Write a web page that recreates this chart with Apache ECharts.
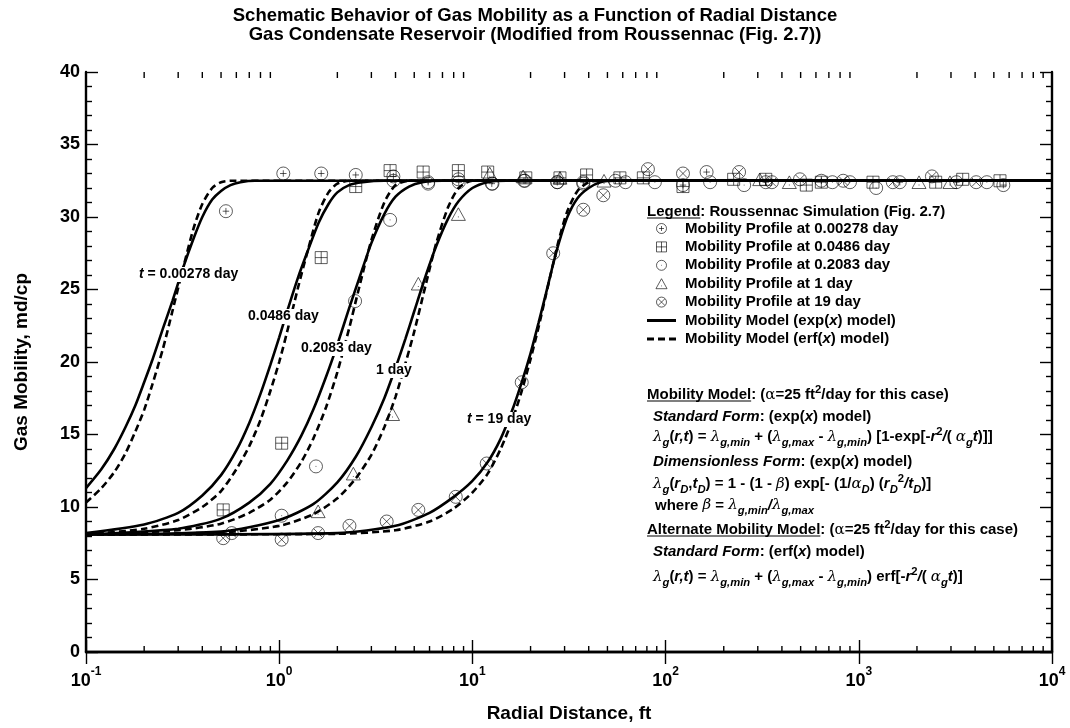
<!DOCTYPE html>
<html>
<head>
<meta charset="utf-8">
<script src="https://cdn.jsdelivr.net/npm/echarts@6/dist/echarts.min.js"></script>
<style>
  html, body { margin: 0; background: #fff; }
  #main { width: 1070px; height: 728px; }
</style>
</head>
<body>
<div id="main"></div>
<script>
// ---------- values ----------
// x minor ticks (2..9 in every decade)
const xMinorTicks = [0.2, 0.3, 0.4, 0.5, 0.6, 0.7, 0.8, 0.9,
  2, 3, 4, 5, 6, 7, 8, 9,
  20, 30, 40, 50, 60, 70, 80, 90,
  200, 300, 400, 500, 600, 700, 800, 900,
  2000, 3000, 4000, 5000, 6000, 7000, 8000, 9000];

// model curves, exp(x) model (solid)
const expR1 = [0.1, 0.12, 0.14, 0.16, 0.18, 0.2, 0.22, 0.25, 0.28, 0.32, 0.36, 0.4, 0.45, 0.5, 0.56, 0.63, 0.75, 1, 10000];
const expV1 = [11.3, 12.6, 14.0, 15.5, 17.0, 18.6, 20.1, 22.3, 24.2, 26.6, 28.5, 30.0, 31.2, 31.8, 32.2, 32.4, 32.5, 32.5, 32.5];
const expR2 = [0.1, 0.2, 0.3, 0.4, 0.5, 0.6, 0.7, 0.8, 0.9, 1.0, 1.1, 1.25, 1.4, 1.6, 1.8, 2.0, 2.3, 2.7, 3.5, 10000];
const expV2 = [8.2, 8.8, 9.6, 10.8, 12.2, 13.9, 15.8, 17.8, 19.8, 21.7, 23.5, 25.8, 27.6, 29.6, 30.9, 31.7, 32.2, 32.4, 32.5, 32.5];
const expR3 = [0.1, 0.3, 0.5, 0.7, 0.9, 1.1, 1.3, 1.5, 1.75, 2.0, 2.3, 2.6, 3.0, 3.5, 4.0, 4.7, 5.5, 7, 10000];
const expV3 = [8.1, 8.5, 9.2, 10.3, 11.6, 13.2, 14.9, 16.7, 19.0, 21.2, 23.7, 25.8, 28.2, 30.2, 31.4, 32.1, 32.4, 32.5, 32.5];
const expR4 = [0.1, 0.5, 1, 1.5, 2, 2.5, 3, 3.5, 4, 4.5, 5, 5.75, 6.5, 7.5, 8.5, 10, 12, 15, 10000];
const expV4 = [8.1, 8.3, 9.1, 10.2, 11.7, 13.5, 15.5, 17.5, 19.6, 21.6, 23.5, 26.0, 28.0, 29.9, 31.1, 32.0, 32.4, 32.5, 32.5];
const expR5 = [0.1, 2, 4, 6, 8, 10, 12, 14, 16, 18, 20, 22, 24, 26, 28, 31, 35, 40, 46, 55, 10000];
const expV5 = [8.1, 8.2, 8.7, 9.6, 10.7, 11.8, 13.1, 14.7, 16.6, 18.6, 20.6, 22.7, 24.7, 26.6, 28.2, 30.0, 31.3, 32.0, 32.4, 32.5, 32.5];

// model curves, erf(x) model (dashed)
const erfR1 = [0.1, 0.12, 0.14, 0.16, 0.18, 0.2, 0.22, 0.25, 0.28, 0.32, 0.36, 0.4, 0.45, 0.5, 0.56, 1, 10000];
const erfV1 = [10.3, 11.3, 12.4, 13.7, 15.2, 16.7, 18.4, 20.9, 23.5, 26.6, 29.2, 30.9, 32.0, 32.4, 32.5, 32.5, 32.5];
const erfR2 = [0.1, 0.2, 0.3, 0.4, 0.5, 0.6, 0.7, 0.8, 0.9, 1.0, 1.1, 1.25, 1.4, 1.6, 1.8, 2.0, 2.3, 10000];
const erfV2 = [8.1, 8.5, 9.1, 10.0, 11.1, 12.6, 14.2, 16.0, 18.0, 20.0, 22.1, 25.1, 27.6, 30.3, 31.7, 32.3, 32.5, 32.5];
const erfR3 = [0.1, 0.3, 0.5, 0.7, 0.9, 1.1, 1.3, 1.5, 1.75, 2.0, 2.3, 2.6, 3.0, 3.5, 4.0, 4.7, 10000];
const erfV3 = [8.1, 8.4, 8.85, 9.6, 10.5, 11.7, 13.1, 14.7, 16.9, 19.3, 22.3, 25.2, 28.4, 31.0, 32.2, 32.5, 32.5];
const erfR4 = [0.1, 0.5, 1, 1.5, 2, 2.5, 3, 3.5, 4, 4.5, 5, 5.75, 6.5, 7.5, 8.5, 10, 10000];
const erfV4 = [8.1, 8.25, 8.7, 9.5, 10.6, 12.0, 13.6, 15.5, 17.6, 19.9, 22.1, 25.4, 28.2, 30.7, 32.0, 32.5, 32.5];
const erfR5 = [0.1, 2, 4, 6, 8, 10, 12, 14, 16, 18, 20, 22, 24, 26, 28, 31, 35, 40, 46, 10000];
const erfV5 = [8.1, 8.15, 8.4, 9.0, 9.9, 11.0, 12.3, 14.0, 15.9, 18.0, 20.2, 22.4, 24.6, 26.6, 28.4, 30.4, 31.8, 32.4, 32.5, 32.5];

// Roussennac simulation points
const simR1 = [0.53, 1.05, 1.65, 2.49, 3.9, 5.9, 8.5, 12.6, 18.5, 27.5, 37.5, 55, 123, 163, 330, 640, 1630, 3200, 5600];
const simV1 = [30.4, 33.0, 33.0, 32.9, 32.8, 32.4, 32.4, 32.3, 32.5, 32.4, 32.4, 32.5, 32.2, 33.1, 32.4, 32.5, 32.4, 32.4, 32.2];
const simR2 = [0.513, 1.03, 1.65, 2.49, 3.75, 5.56, 8.46, 12.0, 18.9, 28.4, 39, 58, 76.7, 123, 225, 330, 535, 640, 1184, 2500, 3450, 5380];
const simV2 = [9.8, 14.4, 27.2, 32.1, 33.2, 33.1, 33.2, 33.1, 32.7, 32.7, 32.9, 32.7, 32.7, 32.1, 32.6, 32.6, 32.2, 32.4, 32.4, 32.4, 32.6, 32.5];
const simR3 = [1.03, 1.55, 2.47, 3.75, 3.9, 5.9, 8.46, 12.7, 18.7, 27.5, 37.5, 62, 88, 170, 255, 730, 900, 1230, 4600];
const simV3 = [9.4, 12.8, 24.2, 29.8, 32.5, 32.3, 32.6, 32.3, 32.5, 32.4, 32.3, 32.4, 32.4, 32.4, 32.2, 32.4, 32.4, 32.0, 32.4];
const simR4 = [1.59, 2.42, 3.86, 5.25, 8.46, 12.3, 18.3, 28.4, 48, 307, 437, 2050, 2965];
const simV4 = [9.7, 12.3, 16.4, 25.4, 30.2, 33.0, 32.8, 32.7, 32.5, 32.6, 32.4, 32.4, 32.4];
const simR5 = [0.513, 0.568, 1.03, 1.59, 2.31, 3.6, 5.25, 8.2, 11.86, 18.0, 26.2, 37.5, 47.6, 81, 123, 240, 355, 496, 830, 1500, 2390, 4050];
const simV5 = [7.85, 8.2, 7.75, 8.2, 8.7, 9.0, 9.8, 10.7, 13.0, 18.6, 27.5, 30.5, 31.5, 33.3, 33.0, 33.1, 32.4, 32.6, 32.5, 32.4, 32.8, 32.4];

const simNames = [
  'Mobility Profile at 0.00278 day',
  'Mobility Profile at 0.0486 day',
  'Mobility Profile at 0.2083 day',
  'Mobility Profile at 1 day',
  'Mobility Profile at 19 day'
];
const EXP_NAME = 'Mobility Model (exp(x) model)';
const ERF_NAME = 'Mobility Model (erf(x) model)';

// ---------- styling ----------
const F = 'Liberation Sans';
const GREEK = 'DejaVu Serif';

const SYM = {
  cplus: 'path://M0,-10A10,10 0 1,1 0,10A10,10 0 1,1 0,-10ZM-5,0L5,0M0,-5L0,5',
  splus: 'path://M-10,-10L10,-10L10,10L-10,10ZM-10,0L10,0M0,-10L0,10',
  cdot: 'path://M0,-10A10,10 0 1,1 0,10A10,10 0 1,1 0,-10ZM-0.7,0L0.7,0',
  tdot: 'path://M0,-10L10,8L-10,8ZM-0.7,3L0.7,3',
  cx: 'path://M0,-10A10,10 0 1,1 0,10A10,10 0 1,1 0,-10ZM-6.5,-6.5L6.5,6.5M-6.5,6.5L6.5,-6.5'
};
const symList = [SYM.cplus, SYM.splus, SYM.cdot, SYM.tdot, SYM.cx];
const symSize = [13, 12, 13, 14, 13];

function pairs(rs, vs) { return rs.map((r, i) => [r, vs[i]]); }

const simR = [simR1, simR2, simR3, simR4, simR5];
const simV = [simV1, simV2, simV3, simV4, simV5];
const expR = [expR1, expR2, expR3, expR4, expR5];
const expV = [expV1, expV2, expV3, expV4, expV5];
const erfR = [erfR1, erfR2, erfR3, erfR4, erfR5];
const erfV = [erfV1, erfV2, erfV3, erfV4, erfV5];

const markerStyle = { color: 'rgba(0,0,0,0)', borderColor: '#000', borderWidth: 0.8 };

const series = [];
// 实线: exp(x) 模型
for (let i = 0; i < 5; i++) {
  series.push({
    type: 'line', name: EXP_NAME, data: pairs(expR[i], expV[i]),
    symbol: 'none', smooth: 0.25, silent: true, z: 3,
    lineStyle: { color: '#000', width: 2.6 }, itemStyle: { color: '#000' }
  });
}
// 虚线: erf(x) 模型
for (let i = 0; i < 5; i++) {
  series.push({
    type: 'line', name: ERF_NAME, data: pairs(erfR[i], erfV[i]),
    symbol: 'none', smooth: 0.25, silent: true, z: 3,
    lineStyle: { color: '#000', width: 2.6, type: [7, 4] }, itemStyle: { color: '#000' }
  });
}
// 模拟数据点
for (let i = 0; i < 5; i++) {
  series.push({
    type: 'scatter', name: simNames[i], data: pairs(simR[i], simV[i]),
    symbol: symList[i], symbolSize: symSize[i], symbolKeepAspect: true, z: 4,
    itemStyle: markerStyle
  });
}
// x 轴次刻度 (对数轴 2..9)
series.push({
  type: 'custom', silent: true, z: 5,
  data: xMinorTicks.map(v => [v, 0]),
  renderItem: function (params, api) {
    const cs = params.coordSys;
    const x = api.coord([api.value(0), 0])[0];
    const st = { stroke: '#000', lineWidth: 1.4 };
    return {
      type: 'group', children: [
        { type: 'line', shape: { x1: x, y1: cs.y + cs.height, x2: x, y2: cs.y + cs.height - 6 }, style: st },
        { type: 'line', shape: { x1: x, y1: cs.y, x2: x, y2: cs.y + 6 }, style: st }
      ]
    };
  }
});

const axisLine = { show: true, lineStyle: { color: '#000', width: 2.4 } };
const majorTick = (len) => ({ show: true, inside: true, length: len, lineStyle: { color: '#000', width: 1.4 } });

function xLabel(v) {
  const e = Math.round(Math.log10(v));
  return '{b|10}{s|' + e + '}';
}

// ---------- text annotations ----------
const measure = (function () {
  const ctx = document.createElement('canvas').getContext('2d');
  return function (txt, font) { ctx.font = font; return ctx.measureText(txt).width; };
})();

function makeRich(fs, lh) {
  const s = fs * 0.75;
  return {
    b: { fontFamily: F, fontWeight: 'bold', fontSize: fs, lineHeight: lh, color: '#000' },
    bi: { fontFamily: F, fontWeight: 'bold', fontStyle: 'italic', fontSize: fs, lineHeight: lh, color: '#000' },
    g: { fontFamily: GREEK, fontStyle: 'italic', fontSize: fs, lineHeight: lh, color: '#000' },
    ga: { fontFamily: GREEK, fontSize: fs, lineHeight: lh, color: '#000' },
    sub: { fontFamily: F, fontWeight: 'bold', fontStyle: 'italic', fontSize: s, lineHeight: 14, verticalAlign: 'bottom', color: '#000' },
    sup: { fontFamily: F, fontWeight: 'bold', fontSize: s, lineHeight: 12, verticalAlign: 'top', color: '#000' }
  };
}
const eqRich = makeRich(15, 22);
const lblRich = makeRich(14, 15);

function txt(left, yc, text) {
  return { type: 'text', left: left, top: yc - 11, z: 10, style: { text: text, rich: eqRich } };
}

const lines = [
  [647, 395, '{b|Mobility Model: (}{ga|α}{b|=25 ft}{sup|2}{b|/day for this case)}'],
  [653, 420, '{bi|Standard Form}{b|: (exp(}{bi|x}{b|) model)}'],
  [653, 437, '{g|λ}{sub|g}{b|(}{bi|r,t}{b|) = }{g|λ}{sub|g,min}{b| + (}{g|λ}{sub|g,max}{b| - }{g|λ}{sub|g,min}{b|) [1-exp[-}{bi|r}{sup|2}{bi|/}{b|( }{g|α}{sub|g}{bi|t}{b|)]]}'],
  [653, 465, '{bi|Dimensionless Form}{b|: (exp(}{bi|x}{b|) model)}'],
  [653, 484, '{g|λ}{sub|g}{b|(}{bi|r}{sub|D}{b|,}{bi|t}{sub|D}{b|) = 1 - (1 - }{g|β}{b|) exp[- (1/}{g|α}{sub|D}{b|) (}{bi|r}{sub|D}{sup|2}{bi|/}{bi|t}{sub|D}{b|)]}'],
  [655, 509, '{b|where }{g|β}{b| = }{g|λ}{sub|g,min}{bi|/}{g|λ}{sub|g,max}'],
  [647, 530, '{b|Alternate Mobility Model: (}{ga|α}{b|=25 ft}{sup|2}{b|/day for this case)}'],
  [653, 555, '{bi|Standard Form}{b|: (erf(}{bi|x}{b|) model)}'],
  [653, 577, '{g|λ}{sub|g}{b|(}{bi|r,t}{b|) = }{g|λ}{sub|g,min}{b| + (}{g|λ}{sub|g,max}{b| - }{g|λ}{sub|g,min}{b|) erf[-}{bi|r}{sup|2}{bi|/}{b|( }{g|α}{sub|g}{bi|t}{b|)]}']
];

const boldFont = 'bold 15px "' + F + '"';
const graphics = lines.map(l => txt(l[0], l[1], l[2]));
// underlines
const underline = (x, y, word) => ({
  type: 'line', z: 10,
  shape: { x1: x, y1: y, x2: x + measure(word, boldFont), y2: y },
  style: { stroke: '#000', lineWidth: 1.2 }
});
graphics.push(underline(647, lines[0][1] + 6, 'Mobility Model'));
graphics.push(underline(647, lines[6][1] + 6, 'Alternate Mobility Model'));
graphics.push(txt(647, 215, '{b|Legend: Roussennac Simulation (Fig. 2.7)}'));
graphics.push(underline(647, 218, 'Legend'));

// curve labels (white box hides the curves behind the text)
const curveLabels = [
  [139, 275, '{bi|t}{b| = 0.00278 day}'],
  [248, 317, '{b|0.0486 day}'],
  [301, 349, '{b|0.2083 day}'],
  [376, 371, '{b|1 day}'],
  [467, 420, '{bi|t}{b| = 19 day}']
];
curveLabels.forEach(l => graphics.push({
  type: 'text', left: l[0] - 2, top: l[1] - 8, z: 10,
  style: { text: l[2], rich: lblRich, backgroundColor: '#fff', padding: [0, 2, 0, 2] }
}));

// ---------- chart ----------
const chart = echarts.init(document.getElementById('main'));

const legendData = simNames.map((n, i) => ({
  name: n, icon: symList[i], itemStyle: { color: 'rgba(0,0,0,0)', borderColor: '#000', borderWidth: 0.8 }
}));
legendData.push({ name: EXP_NAME, icon: 'path://M0,0H29V3H0Z', itemStyle: { color: '#000', borderWidth: 0 } });
legendData.push({ name: ERF_NAME, icon: 'path://M0,0H7V3H0ZM11,0H18V3H11ZM22,0H29V3H22Z', itemStyle: { color: '#000', borderWidth: 0 } });

const option = {
  animation: false,
  backgroundColor: '#fff',
  title: {
    text: 'Schematic Behavior of Gas Mobility as a Function of Radial Distance\nGas Condensate Reservoir (Modified from Roussennac (Fig. 2.7))',
    left: 'center', top: 2,
    textStyle: { fontFamily: F, fontWeight: 'bold', fontSize: 18.5, lineHeight: 18.5, color: '#000' }
  },
  grid: { left: 86, right: 18, top: 72, bottom: 76, outerBoundsMode: 'none' },
  legend: {
    orient: 'vertical', left: 647, top: 221, padding: 0,
    itemWidth: 29, itemHeight: 10, itemGap: 3.4,
    selectedMode: false,
    data: legendData,
    formatter: n => n.replace('(x)', '({i|x})'),
    textStyle: {
      fontFamily: F, fontWeight: 'bold', fontSize: 15, color: '#000',
      padding: [0, 0, 0, 4],
      rich: { i: { fontFamily: F, fontWeight: 'bold', fontStyle: 'italic', fontSize: 15, color: '#000' } }
    }
  },
  xAxis: [{
    type: 'log', logBase: 10, min: 0.1, max: 10000, position: 'bottom',
    axisLine: axisLine, axisTick: majorTick(12), splitLine: { show: false },
    axisLabel: {
      formatter: xLabel, margin: 14,
      rich: {
        b: { fontFamily: F, fontWeight: 'bold', fontSize: 18, lineHeight: 24, verticalAlign: 'bottom', color: '#000' },
        s: { fontFamily: F, fontWeight: 'bold', fontSize: 12, lineHeight: 14, verticalAlign: 'top', color: '#000' }
      }
    },
    name: 'Radial Distance, ft', nameLocation: 'middle', nameGap: 52,
    nameTextStyle: { fontFamily: F, fontWeight: 'bold', fontSize: 19, color: '#000' }
  }, {
    type: 'log', logBase: 10, min: 0.1, max: 10000, position: 'top',
    axisLine: axisLine, axisTick: majorTick(12), axisLabel: { show: false }, splitLine: { show: false }
  }],
  yAxis: [{
    type: 'value', min: 0, max: 40, interval: 5, position: 'left',
    axisLine: axisLine, axisTick: majorTick(12), splitLine: { show: false },
    minorTick: { show: true, splitNumber: 5, length: 6, lineStyle: { color: '#000', width: 1.4 } },
    axisLabel: { fontFamily: F, fontWeight: 'bold', fontSize: 18, color: '#000', margin: 6 },
    name: 'Gas Mobility, md/cp', nameLocation: 'middle', nameGap: 55,
    nameTextStyle: { fontFamily: F, fontWeight: 'bold', fontSize: 19, color: '#000' }
  }, {
    type: 'value', min: 0, max: 40, interval: 5, position: 'right',
    axisLine: axisLine, axisTick: majorTick(12), splitLine: { show: false },
    minorTick: { show: true, splitNumber: 5, length: 6, lineStyle: { color: '#000', width: 1.4 } },
    axisLabel: { show: false }
  }],
  graphic: graphics,
  series: series
};

chart.setOption(option);
</script>
</body>
</html>
